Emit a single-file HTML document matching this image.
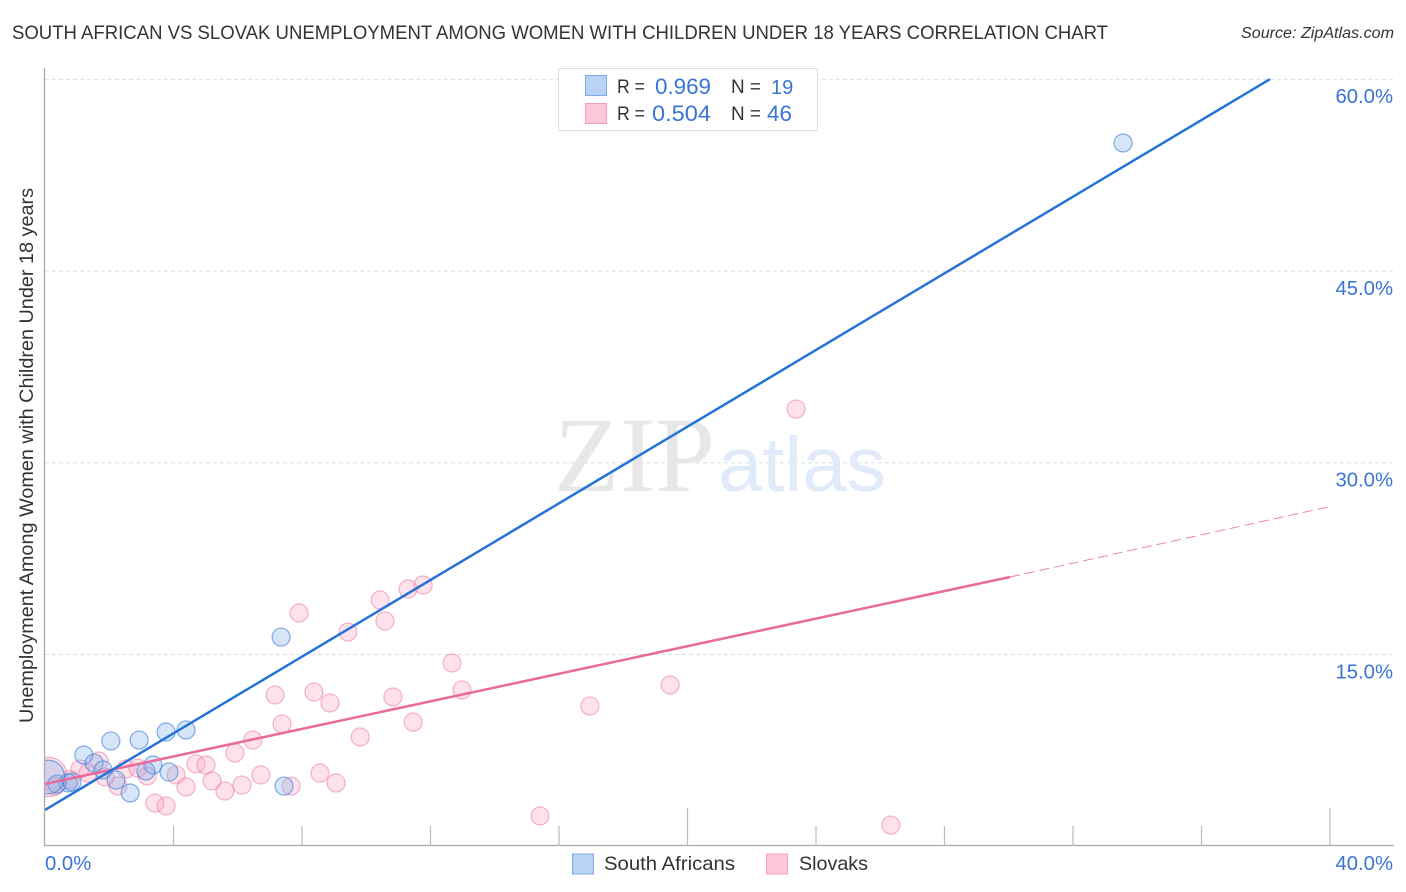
<!DOCTYPE html>
<html lang="en">
<head>
<meta charset="utf-8">
<title>South African vs Slovak Unemployment Correlation Chart</title>
<style>
html,body{margin:0;padding:0;background:#fff;width:1406px;height:892px;overflow:hidden}
svg{display:block;font-family:"Liberation Sans",sans-serif}
</style>
</head>
<body>
<svg id="chart" width="1406" height="892" viewBox="0 0 1406 892">
  <defs>
    <clipPath id="plot-clip"><rect x="45" y="60" width="1349" height="786"/></clipPath>
  </defs>
  <text x="12" y="39" font-size="19" fill="#333" textLength="1096" lengthAdjust="spacingAndGlyphs">SOUTH AFRICAN VS SLOVAK UNEMPLOYMENT AMONG WOMEN WITH CHILDREN UNDER 18 YEARS CORRELATION CHART</text>
  <text x="1241" y="38" font-size="15.5" font-style="italic" fill="#333" textLength="153" lengthAdjust="spacingAndGlyphs">Source: ZipAtlas.com</text>

  <g id="grid"></g>

  <g>
    <text x="554" y="491" font-family="'Liberation Serif',serif" font-size="107" fill="#e7e7e7" textLength="161" lengthAdjust="spacingAndGlyphs">ZIP</text>
    <text x="718" y="491" font-size="77" fill="#e0eaf9" textLength="168" lengthAdjust="spacingAndGlyphs">atlas</text>
  </g>

  <g id="points" clip-path="url(#plot-clip)"></g>
  <g id="trends" clip-path="url(#plot-clip)"></g>
  <rect x="0" y="700" width="44" height="140" fill="#fff"/>

  <g id="axes">
    <line x1="44.5" y1="68" x2="44.5" y2="846" stroke="#aaa" stroke-width="1.3"/>
    <line x1="44" y1="845.5" x2="1394" y2="845.5" stroke="#aaa" stroke-width="1.3"/>
  </g>

  <g id="labels"></g>

  <text transform="translate(33,723) rotate(-90)" font-size="19" fill="#333" textLength="535" lengthAdjust="spacingAndGlyphs">Unemployment Among Women with Children Under 18 years</text>

  <g>
    <rect x="558.5" y="68.5" width="259" height="62" fill="#fff" stroke="#ddd" stroke-width="1"/>
    <rect x="585.5" y="75.5" width="21" height="20" fill="#b9d3f6" stroke="#7eabe6" stroke-width="1"/>
    <rect x="585.5" y="103.5" width="21" height="20" fill="#fcc7d9" stroke="#f59fbb" stroke-width="1"/>
    <text x="617" y="93" font-size="19" fill="#333" textLength="28" lengthAdjust="spacingAndGlyphs">R =</text>
    <text x="655" y="94" font-size="22" fill="#3a74d6" textLength="56" lengthAdjust="spacingAndGlyphs">0.969</text>
    <text x="731" y="93" font-size="19" fill="#333" textLength="30" lengthAdjust="spacingAndGlyphs">N =</text>
    <text x="771" y="94" font-size="20" fill="#3a74d6">19</text>
    <text x="617" y="120" font-size="19" fill="#333" textLength="28" lengthAdjust="spacingAndGlyphs">R =</text>
    <text x="652" y="121" font-size="22" fill="#3a74d6" textLength="59" lengthAdjust="spacingAndGlyphs">0.504</text>
    <text x="731" y="120" font-size="19" fill="#333" textLength="30" lengthAdjust="spacingAndGlyphs">N =</text>
    <text x="767" y="121" font-size="22" fill="#3a74d6" textLength="25" lengthAdjust="spacingAndGlyphs">46</text>
  </g>

  <g>
    <g>
      <rect x="572.5" y="854" width="21" height="20" fill="#b9d3f6" stroke="#7eabe6" stroke-width="1"/>
      <text x="604" y="870" font-size="19.5" fill="#333" textLength="131" lengthAdjust="spacingAndGlyphs">South Africans</text>
    </g>
    <g>
      <rect x="766.5" y="854" width="21" height="20" fill="#fcc7d9" stroke="#f59fbb" stroke-width="1"/>
      <text x="799" y="870" font-size="19.5" fill="#333" textLength="69" lengthAdjust="spacingAndGlyphs">Slovaks</text>
    </g>
  </g>
</svg>
<script>
var yTickValues = [15, 30, 45, 60];
var yTickLabels = ['15.0%', '30.0%', '45.0%', '60.0%'];
var xTickValues = [4, 8, 12, 16, 20, 24, 28, 32, 36, 40];
var xMajorTicks = [20, 40];
var xEndValues = [0, 40];
var xEndLabels = ['0.0%', '40.0%'];

var southAfricanX = [33.56, 7.35, 4.39, 3.77, 2.93, 2.05, 1.21, 1.53, 1.81, 3.36, 3.86, 3.14, 2.21, 2.65, 7.44, 0.72, 0.37, 0.09, 0.84];
var southAfricanY = [55.01, 16.35, 9.08, 8.92, 8.29, 8.22, 7.12, 6.49, 5.95, 6.34, 5.79, 5.87, 5.16, 4.15, 4.69, 4.93, 4.85, 5.4, 5.01];
var southAfricanWeight = [1, 1, 1, 1, 1, 1, 1, 1, 1, 1, 1, 1, 1, 1, 1, 1, 1, 3.5, 1];

var slovakX = [23.38, 11.77, 11.3, 10.43, 7.91, 10.58, 9.43, 12.67, 19.46, 12.98, 8.37, 7.16, 10.83, 8.87, 16.96, 11.46, 7.38, 9.81, 6.47, 5.91, 1.68, 1.09, 2.52, 2.89, 4.7, 5.01, 4.08, 3.18, 1.34, 6.72, 8.56, 9.06, 7.66, 6.13, 5.2, 4.39, 5.6, 2.27, 3.42, 3.77, 15.41, 26.33, 0.09, 0.78, 0.31, 1.87];
var slovakY = [34.19, 20.42, 20.11, 19.25, 18.23, 17.61, 16.74, 14.32, 12.6, 12.21, 12.05, 11.82, 11.66, 11.19, 10.95, 9.7, 9.55, 8.53, 8.29, 7.28, 6.65, 6.03, 6.03, 6.1, 6.42, 6.34, 5.56, 5.48, 5.71, 5.56, 5.71, 4.93, 4.69, 4.77, 5.09, 4.62, 4.3, 4.69, 3.36, 3.13, 2.35, 1.64, 5.4, 5.2, 4.7, 5.4];
var slovakWeight = [1, 1, 1, 1, 1, 1, 1, 1, 1, 1, 1, 1, 1, 1, 1, 1, 1, 1, 1, 1, 1, 1, 1, 1, 1, 1, 1, 1, 1, 1, 1, 1, 1, 1, 1, 1, 1, 1, 1, 1, 1, 1, 4.8, 1, 1, 1];

var southAfricanTrendX = [0, 38.13];
var southAfricanTrendY = [2.82, 60];
var slovakTrendX = [0, 30.04];
var slovakTrendY = [4.85, 21.05];
var slovakForecastX = [30.04, 39.94];
var slovakForecastY = [21.05, 26.53];

var NS = 'http://www.w3.org/2000/svg';
function xScale(v) { return 45 + v * 32.125; }
function yScale(v) { return 846 - v * 12.78; }
function rScale(w) { return 9 * Math.sqrt(w); }
function make(tag, attrs) {
  var el = document.createElementNS(NS, tag);
  for (var k in attrs) { el.setAttribute(k, attrs[k]); }
  return el;
}

var gridG = document.getElementById('grid');
var axesG = document.getElementById('axes');
var labelsG = document.getElementById('labels');
var pointsG = document.getElementById('points');
var trendsG = document.getElementById('trends');

yTickValues.forEach(function (v, i) {
  var line = make('line', {x1: 45, x2: 1394, y1: yScale(v) + 0.2, y2: yScale(v) + 0.2, stroke: '#ddd', 'stroke-width': 1, 'stroke-dasharray': '4 3'});
  
  
  gridG.appendChild(line);
  var label = make('text', {x: 1393, y: yScale(v) + 24, 'font-size': 20.3, fill: '#3a74d6', 'text-anchor': 'end'});
  label.textContent = yTickLabels[i];
  
  
  labelsG.appendChild(label);
});

xTickValues.forEach(function (v) {
  var top = xMajorTicks.indexOf(v) >= 0 ? 808 : 826;
  var tick = make('line', {x1: xScale(v), x2: xScale(v), y1: top, y2: 846, stroke: '#bbb', 'stroke-width': 1.2});
  
  
  axesG.appendChild(tick);
});

xEndValues.forEach(function (v, i) {
  var label = make('text', {x: i === 0 ? xScale(v) : 1393, y: 870, 'font-size': 20.3, fill: '#3a74d6', 'text-anchor': i === 0 ? 'start' : 'end'});
  label.textContent = xEndLabels[i];
  
  
  labelsG.appendChild(label);
});

slovakX.forEach(function (v, i) {
  var c = make('circle', {cx: xScale(v), cy: yScale(slovakY[i]), r: rScale(slovakWeight[i]), fill: 'rgba(247,160,190,0.3)', stroke: 'rgba(238,130,170,0.6)', 'stroke-width': 1.2});
  
  
  pointsG.appendChild(c);
});

southAfricanX.forEach(function (v, i) {
  var c = make('circle', {cx: xScale(v), cy: yScale(southAfricanY[i]), r: rScale(southAfricanWeight[i]), fill: 'rgba(130,175,235,0.33)', stroke: 'rgba(60,125,220,0.62)', 'stroke-width': 1.2});
  
  
  pointsG.appendChild(c);
});

var forecast = make('line', {x1: xScale(slovakForecastX[0]), y1: yScale(slovakForecastY[0]), x2: xScale(slovakForecastX[1]), y2: yScale(slovakForecastY[1]), stroke: '#ea86ab', 'stroke-width': 1, 'stroke-dasharray': '10 5'});


trendsG.appendChild(forecast);

var slovakLine = make('line', {x1: xScale(slovakTrendX[0]), y1: yScale(slovakTrendY[0]), x2: xScale(slovakTrendX[1]), y2: yScale(slovakTrendY[1]), stroke: '#ea6a9b', 'stroke-width': 2.5});


trendsG.appendChild(slovakLine);

var southAfricanLine = make('line', {x1: xScale(southAfricanTrendX[0]), y1: yScale(southAfricanTrendY[0]), x2: xScale(southAfricanTrendX[1]), y2: yScale(southAfricanTrendY[1]), stroke: '#2673d8', 'stroke-width': 2.5});


trendsG.appendChild(southAfricanLine);
</script>
</body>
</html>
